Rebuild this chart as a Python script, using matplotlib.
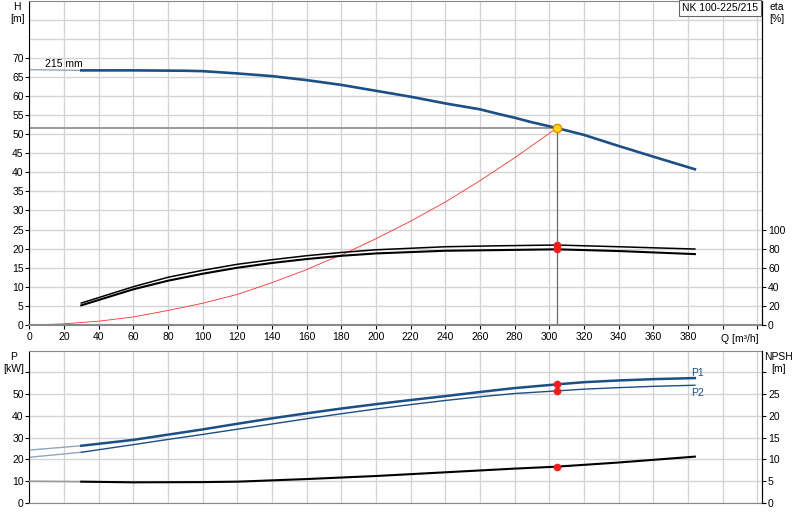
import matplotlib
matplotlib.use("Agg")
import matplotlib.pyplot as plt

plt.rcParams['font.family'] = ['Liberation Sans', 'DejaVu Sans']

# --- pump curve data ---
q_head = [30, 60, 90, 100, 120, 140, 160, 180, 200, 220, 240, 260, 271, 280, 290, 304.4, 320, 340, 360, 384]
head = [66.7, 66.7, 66.6, 66.5, 65.9, 65.2, 64.15, 62.9, 61.35, 59.8, 58.05, 56.5, 55.25, 54.3, 53.1, 51.6,
        49.8, 46.9, 44.1, 40.8]
q_head_ext = [0, 30]
head_ext = [66.9, 66.7]

q_sys = [0, 20, 40, 60, 80, 100, 120, 140, 160, 172.6, 180, 200, 220, 240, 260, 280, 304.4]
h_sys = [0, 0.3, 1.0, 2.1, 3.8, 5.7, 8.0, 11.1, 14.5, 17.0, 18.3, 22.6, 27.2, 32.2, 37.8, 43.8, 51.6]

q_eta = [30, 60, 80, 100, 120, 140, 160, 180, 200, 240, 271, 304.4, 340, 384]
eta_pump = [23.0, 40.1, 50.0, 57.3, 63.6, 68.4, 72.6, 76.0, 78.8, 82.0, 83.0, 83.8, 82.0, 79.6]
eta_total = [20.6, 37.4, 46.4, 53.7, 60.0, 65.0, 69.1, 72.5, 75.0, 77.8, 78.5, 79.3, 77.5, 74.3]

q_pow = [30, 60, 80, 100, 120, 140, 160, 180, 200, 220, 240, 260, 280, 304.4, 320, 340, 360, 384]
p1 = [26.3, 29.0, 31.4, 33.8, 36.4, 38.9, 41.2, 43.4, 45.4, 47.3, 49.1, 51.0, 52.8, 54.5, 55.5, 56.3, 56.9, 57.4]
p2 = [23.3, 26.8, 29.2, 31.5, 33.9, 36.3, 38.7, 41.0, 43.2, 45.2, 47.1, 48.8, 50.3, 51.5, 52.3, 53.0, 53.6, 54.1]
q_pow_ext = [0, 30]
p1_ext = [24.3, 26.3]
p2_ext = [21.0, 23.3]

q_npsh = [30, 60, 100, 120, 160, 200, 240, 280, 304.4, 340, 384]
npsh = [4.9, 4.75, 4.8, 4.9, 5.5, 6.2, 7.05, 7.9, 8.35, 9.3, 10.65]
q_npsh_ext = [0, 30]
npsh_ext = [5.0, 4.9]

duty_q = 304.4
duty_h = 51.6

x_ticks = list(range(0, 421, 20))
x_labels = [str(v) if v <= 380 else '' for v in x_ticks]

BLUE = '#1b4f85'
LIGHT = '#8fa6bd'
GRID = '#d4d4d4'
FS = 7.5

fig = plt.figure(figsize=(8, 5.2), dpi=100)

# ---------------- head / efficiency ----------------
ax = fig.add_axes([0.0366, 0.375, 0.9165, 0.624])
ax.set_xlim(0, 423)
ax.set_ylim(0, 85)
ax.set_xticks(x_ticks)
ax.set_xticklabels(x_labels, fontsize=FS)
ax.set_yticks(range(0, 71, 5))
ax.tick_params(axis='y', labelsize=FS, length=3, pad=1)
ax.tick_params(axis='x', length=3, pad=2)
ax.grid(True, color=GRID, lw=1.0)
for y in (75, 80):
    ax.axhline(y, color=GRID, lw=1.0, zorder=0)
ax.set_axisbelow(True)
for s in ('top', 'bottom'):
    ax.spines[s].set_color('#888888')
ax.spines['bottom'].set_linewidth(1.5)

ax.plot(q_head_ext, head_ext, color=LIGHT, lw=1.0)
ax.plot(q_head, head, color=BLUE, lw=1.9)
ax.plot(q_sys, h_sys, color='#ff3030', lw=0.6)
ax.plot([0, duty_q], [duty_h, duty_h], color='#9a9a9a', lw=1.4, zorder=1)
ax.plot([duty_q, duty_q], [0, duty_h], color='#6a6a6a', lw=0.9, zorder=1)
ax.plot([duty_q], [duty_h], 'o', ms=6, mfc='#ffd800', mec='#f08a00', mew=1, zorder=5)

ax.text(9, 67.6, '215 mm', fontsize=FS)
ax.text(399, -2.3, 'Q [m³/h]', fontsize=FS, va='top', ha='left')
ax.text(-7, 84.5, 'H\n[m]', fontsize=FS, ha='center', va='top', linespacing=1.25)
ax.text(427, 84.5, 'eta\n[%]', fontsize=FS, ha='left', va='top', linespacing=1.25)
ax.text(420.5, 84.3, 'NK 100-225/215', fontsize=FS, ha='right', va='top',
        bbox=dict(boxstyle='square,pad=0.3', fc='white', ec='#666666', lw=0.8))

ax_eta = ax.twinx()
ax_eta.set_ylim(0, 340)
ax_eta.set_yticks(range(0, 101, 20))
ax_eta.tick_params(axis='y', labelsize=FS, length=3, pad=1)
ax_eta.plot(q_eta, eta_pump, color='black', lw=1.1)
ax_eta.plot(q_eta, eta_total, color='black', lw=1.5)
ax_eta.plot([duty_q, duty_q], [eta_pump[11], eta_total[11]], 'o', color='#ff1a1a', ms=4.5)
for s in ('top', 'bottom', 'left'):
    ax_eta.spines[s].set_visible(False)

# ---------------- power / NPSH ----------------
bx = fig.add_axes([0.0366, 0.0327, 0.9165, 0.293])
bx.set_xlim(0, 423)
bx.set_ylim(0, 70)
bx.set_xticks(x_ticks)
bx.set_xticklabels([])
bx.set_yticks(range(0, 61, 10))
bx.set_yticklabels([str(v) if v < 60 else '' for v in range(0, 61, 10)])
bx.tick_params(axis='y', labelsize=FS, length=3, pad=1)
bx.tick_params(axis='x', length=0)
bx.grid(True, color=GRID, lw=1.0)
bx.set_axisbelow(True)
for s in ('top', 'bottom'):
    bx.spines[s].set_color('#888888')

bx.plot(q_pow_ext, p1_ext, color=LIGHT, lw=1.0)
bx.plot(q_pow_ext, p2_ext, color=LIGHT, lw=1.0)
bx.plot(q_pow, p1, color=BLUE, lw=1.8)
bx.plot(q_pow, p2, color=BLUE, lw=1.0)
bx.plot([duty_q, duty_q], [p1[13], p2[13]], 'o', color='#ff1a1a', ms=4.5)
bx.text(382, 58.5, 'P1', fontsize=FS, color=BLUE)
bx.text(382, 49.0, 'P2', fontsize=FS, color=BLUE)
bx.text(-8.8, 69.5, 'P\n[kW]', fontsize=FS, ha='center', va='top', linespacing=1.25)
bx.text(432, 69.5, 'NPSH\n[m]', fontsize=FS, ha='center', va='top', linespacing=1.25)

bx_n = bx.twinx()
bx_n.set_ylim(0, 35)
bx_n.set_yticks(range(0, 31, 5))
bx_n.set_yticklabels([str(v) if v < 30 else '' for v in range(0, 31, 5)])
bx_n.tick_params(axis='y', labelsize=FS, length=3, pad=1)
bx_n.plot(q_npsh_ext, npsh_ext, color='#9a9a9a', lw=1.2)
bx_n.plot(q_npsh, npsh, color='black', lw=1.5)
bx_n.plot([duty_q], [npsh[8]], 'o', color='#ff1a1a', ms=4.5)
for s in ('top', 'bottom', 'left'):
    bx_n.spines[s].set_visible(False)

fig.savefig('out.png', dpi=100)
